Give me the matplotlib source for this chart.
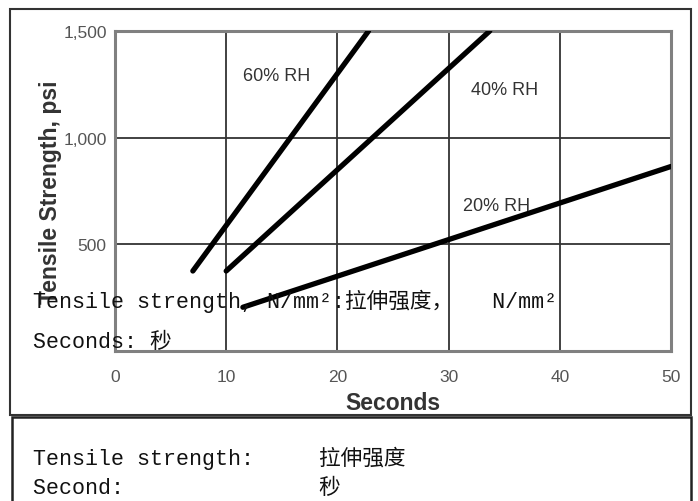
import matplotlib
matplotlib.use("Agg")
import matplotlib.pyplot as plt
from matplotlib.patches import Rectangle

# data
rh_labels = ["60% RH", "40% RH", "20% RH"]
seconds = [[7, 22.8], [10, 33.7], [11.5, 50]]
strength = [[375, 1500], [375, 1500], [205, 865]]
label_pos = [(14.5, 1290), (35.0, 1228), (34.3, 684)]
x_ticks = [0, 10, 20, 30, 40, 50]
y_ticks = [500, 1000, 1500]
y_tick_labels = ["500", "1,000", "1,500"]

W, H = 698, 502
sans = "Liberation Sans"
mono = ["Liberation Mono", "Noto Sans CJK SC"]

fig = plt.figure(figsize=(W / 100, H / 100), dpi=100)
fig.patch.set_facecolor("white")


def fx(px):
    return px / W


def fy(py):
    return 1 - py / H


ax = fig.add_axes([fx(115), fy(352), fx(671) - fx(115), fy(32) - fy(352)])
for xs, ys in zip(seconds, strength):
    ax.plot(xs, ys, color="black", linewidth=3.8, solid_capstyle="round", zorder=3)
for lab, (lx, ly) in zip(rh_labels, label_pos):
    ax.text(lx, ly, lab, ha="center", va="center", fontsize=13,
            family=sans, color="#333333", zorder=4)

ax.set_xlim(0, 50)
ax.set_ylim(0, 1500)
ax.set_xticks(x_ticks)
ax.set_yticks(y_ticks, y_tick_labels)
ax.tick_params(length=0, labelsize=12.5, labelcolor="#555555")
ax.tick_params(axis="x", pad=13)
ax.tick_params(axis="y", pad=6)
for t in ax.get_xticklabels() + ax.get_yticklabels():
    t.set_family(sans)
ax.grid(True, color="#333333", linewidth=1.3)
ax.set_axisbelow(True)
for s in ax.spines.values():
    s.set_color("#808080")
    s.set_linewidth(2.2)
ax.set_xlabel("Seconds", fontsize=16.5, fontweight="bold", family=sans,
              color="#333333", labelpad=5)
ax.set_ylabel("Tensile Strength, psi", fontsize=16.5, fontweight="bold",
              family=sans, color="#333333", labelpad=1)

# frames around the chart and the note
fig.add_artist(Rectangle((fx(10), fy(416)), fx(691) - fx(10), fy(10) - fy(416),
                         transform=fig.transFigure, fill=False,
                         edgecolor="#333333", linewidth=1.5))
fig.add_artist(Rectangle((fx(12), fy(520)), fx(691) - fx(12), fy(418) - fy(520),
                         transform=fig.transFigure, fill=False,
                         edgecolor="#222222", linewidth=1.8, clip_on=False))

# overlaid translation notes
fig.text(fx(33), fy(308), "Tensile strength, N/mm²:拉伸强度，   N/mm²",
         family=mono, fontsize=15.6, color="#111111", va="baseline", zorder=5)
fig.text(fx(33), fy(348), "Seconds: 秒", family=mono, fontsize=15.6,
         color="#111111", va="baseline", zorder=5)
fig.text(fx(33), fy(465), "Tensile strength:     拉伸强度", family=mono,
         fontsize=15.6, color="#111111", va="baseline")
fig.text(fx(33), fy(494), "Second:               秒", family=mono,
         fontsize=15.6, color="#111111", va="baseline")

fig.savefig("out.png", dpi=100)
